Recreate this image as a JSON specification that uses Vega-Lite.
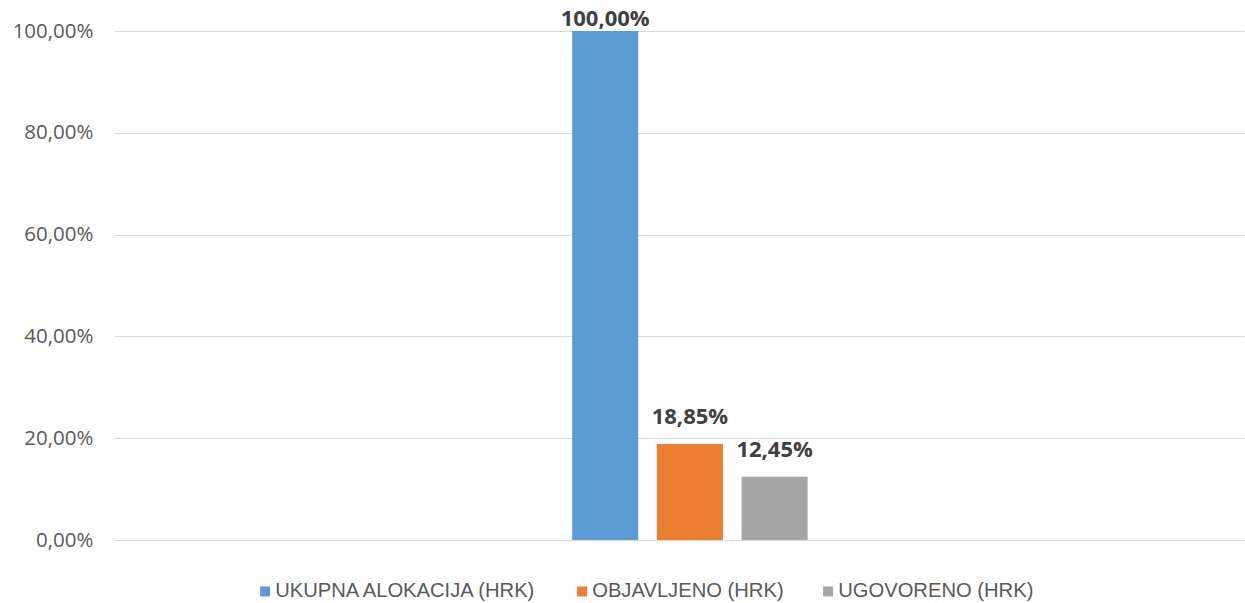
{
  "$schema": "https://vega.github.io/schema/vega-lite/v6.json",
  "width": 1245,
  "height": 603,
  "autosize": {"type": "fit", "contains": "padding"},
  "padding": {"left": 12, "right": 1, "top": 8, "bottom": 52},
  "config": {
    "view": {"stroke": null},
    "font": "Open Sans"
  },
  "data": {
    "values": [
      {"serija": "UKUPNA ALOKACIJA (HRK)", "postotak": 100.00, "oznaka": "100,00%"},
      {"serija": "OBJAVLJENO (HRK)", "postotak": 18.85, "oznaka": "18,85%"},
      {"serija": "UGOVORENO (HRK)", "postotak": 12.45, "oznaka": "12,45%"}
    ]
  },
  "encoding": {
    "x": {
      "field": "serija",
      "type": "nominal",
      "sort": null,
      "axis": null,
      "scale": {
        "domain": [" ", "  ", "   ", "    ", "     ", "UKUPNA ALOKACIJA (HRK)", "OBJAVLJENO (HRK)", "UGOVORENO (HRK)", "      ", "       ", "        ", "         ", "          "],
        "paddingInner": 0.22,
        "paddingOuter": 0.28,
        "align": 0.73
      }
    },
    "y": {
      "field": "postotak",
      "type": "quantitative",
      "scale": {"domain": [0, 100], "nice": false},
      "axis": {
        "values": [0, 20, 40, 60, 80, 100],
        "labelExpr": "replace(format(datum.value, '.2f'), '.', ',') + '%'",
        "title": null,
        "domain": false,
        "ticks": false,
        "labelPadding": 21,
        "labelFontSize": 20.5,
        "labelColor": "#595959",
        "gridColor": "#D9D9D9",
        "gridWidth": 1
      }
    }
  },
  "layer": [
    {
      "mark": {"type": "bar"},
      "encoding": {
        "color": {
          "field": "serija",
          "type": "nominal",
          "sort": null,
          "scale": {
            "domain": ["UKUPNA ALOKACIJA (HRK)", "OBJAVLJENO (HRK)", "UGOVORENO (HRK)"],
            "range": ["#5B9BD5", "#ED7D31", "#A5A5A5"]
          },
          "legend": {
            "orient": "none",
            "legendX": 141,
            "legendY": 550,
            "direction": "horizontal",
            "title": null,
            "symbolType": "square",
            "symbolSize": 100,
            "symbolStrokeWidth": 0,
            "symbolOffset": 0,
            "labelOffset": 0,
            "labelFontSize": 20.2,
            "labelColor": "#595959",
            "labelFont": "Liberation Sans",
            "columnPadding": 34,
            "labelLimit": 400
          }
        }
      }
    },
    {
      "transform": [{"filter": "datum.postotak < 100"}],
      "mark": {"type": "text", "baseline": "bottom", "dy": -15, "fontSize": 22, "fontWeight": "bold", "color": "#404040"},
      "encoding": {
        "text": {"field": "oznaka", "type": "nominal"}
      }
    },
    {
      "transform": [{"filter": "datum.postotak >= 100"}],
      "mark": {"type": "text", "baseline": "bottom", "dy": 0, "fontSize": 22, "fontWeight": "bold", "color": "#404040"},
      "encoding": {
        "text": {"field": "oznaka", "type": "nominal"}
      }
    }
  ]
}
